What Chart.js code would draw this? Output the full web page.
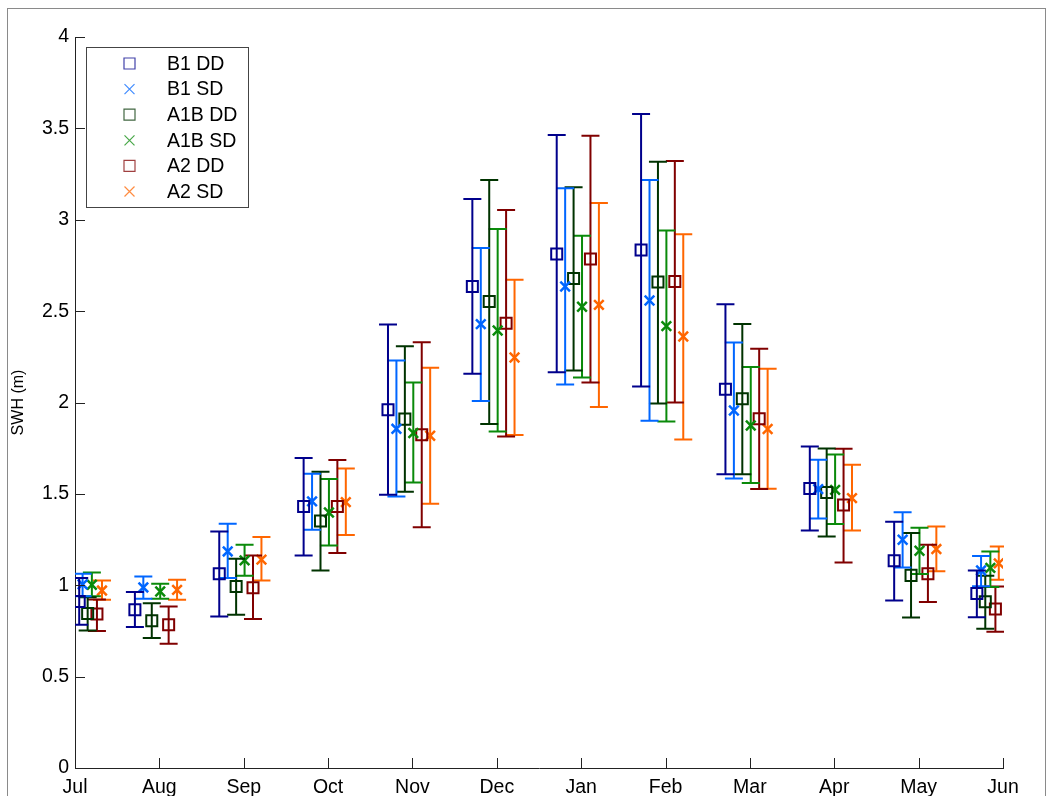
<!DOCTYPE html>
<html><head><meta charset="utf-8">
<script src="https://cdn.jsdelivr.net/npm/chart.js@4/dist/chart.umd.min.js"></script>
<style>html,body{margin:0;padding:0;background:#fff;overflow:hidden}canvas{display:block}</style>
</head><body>
<canvas id="c" width="1048" height="796"></canvas>
<script>
// ---- data ----
const months = ['Jul','Aug','Sep','Oct','Nov','Dec','Jan','Feb','Mar','Apr','May','Jun'];
const seriesNames = ['B1 DD','B1 SD','A1B DD','A1B SD','A2 DD','A2 SD'];
// x offsets (in month units) of each series around its month
const slotOffset = [-0.29,-0.19,-0.09,0.01,0.11,0.21];
const julOffset  = [0.05,0.09,0.15,0.20,0.26,0.32];
const junOffset  = [-0.31,-0.26,-0.21,-0.15,-0.09,-0.05];

const b1ddMean = [0.911,0.866,1.063,1.431,1.960,2.635,2.813,2.835,2.073,1.530,1.134,0.955];
const b1ddHigh = [1.040,0.963,1.294,1.696,2.427,3.113,3.464,3.579,2.538,1.759,1.347,1.081];
const b1ddLow  = [0.784,0.771,0.829,1.163,1.495,2.157,2.166,2.088,1.608,1.300,0.917,0.825];

const b1sdMean = [1.005,0.988,1.185,1.459,1.856,2.429,2.635,2.558,1.956,1.526,1.249,1.081];
const b1sdHigh = [1.063,1.048,1.336,1.610,2.230,2.846,3.173,3.218,2.328,1.687,1.400,1.160];
const b1sdLow  = [0.940,0.926,1.039,1.304,1.486,2.008,2.099,1.900,1.584,1.365,1.097,0.995];

const a1bddMean = [0.846,0.806,0.993,1.351,1.909,2.553,2.678,2.659,2.020,1.508,1.054,0.910];
const a1bddHigh = [0.935,0.902,1.145,1.621,2.308,3.218,3.178,3.318,2.430,1.748,1.286,1.052];
const a1bddLow  = [0.752,0.711,0.839,1.081,1.512,1.882,2.175,1.995,1.608,1.267,0.824,0.762];

const a1bsdMean = [1.003,0.966,1.136,1.398,1.833,2.394,2.524,2.418,1.874,1.522,1.189,1.095];
const a1bsdHigh = [1.070,1.008,1.222,1.581,2.109,2.950,2.912,2.941,2.194,1.716,1.315,1.185];
const a1bsdLow  = [0.940,0.926,1.052,1.218,1.562,1.841,2.137,1.896,1.559,1.335,1.061,0.990];

const a2ddMean = [0.843,0.784,0.986,1.431,1.823,2.434,2.785,2.662,1.911,1.439,1.063,0.870];
const a2ddHigh = [0.922,0.884,1.163,1.685,2.330,3.054,3.459,3.322,2.294,1.747,1.222,0.993];
const a2ddLow  = [0.749,0.680,0.815,1.176,1.318,1.814,2.109,2.000,1.526,1.125,0.908,0.745];

const a2sdMean = [0.971,0.975,1.140,1.455,1.818,2.246,2.534,2.361,1.855,1.477,1.198,1.120];
const a2sdHigh = [1.026,1.030,1.264,1.639,2.190,2.671,3.091,2.921,2.184,1.659,1.322,1.212];
const a2sdLow  = [0.920,0.920,1.026,1.275,1.446,1.822,1.976,1.798,1.528,1.300,1.076,1.030];

const yTicks = [0,0.5,1,1.5,2,2.5,3,3.5,4];
const yTickLabels = ['0','0.5','1','1.5','2','2.5','3','3.5','4'];

// ---- styles ----
const seriesColors = ['#00008c','#0066ff','#003300','#0a8a0a','#800000','#ff6600'];
const seriesStyle  = ['rect','crossRot','rect','crossRot','rect','crossRot'];
const allMean = [b1ddMean,b1sdMean,a1bddMean,a1bsdMean,a2ddMean,a2sdMean];
const allHigh = [b1ddHigh,b1sdHigh,a1bddHigh,a1bsdHigh,a2ddHigh,a2sdHigh];
const allLow  = [b1ddLow,b1sdLow,a1bddLow,a1bsdLow,a2ddLow,a2sdLow];

function offsetFor(m, s){
  if (m === 0) return julOffset[s];
  if (m === months.length-1) return junOffset[s];
  return slotOffset[s];
}

const datasets = seriesNames.map((name, s) => ({
  label: name,
  data: months.map((mo, m) => ({ x: m + offsetFor(m, s), y: allMean[s][m], yMin: allLow[s][m], yMax: allHigh[s][m] })),
  showLine: false,
  borderColor: seriesColors[s],
  backgroundColor: 'rgba(0,0,0,0)',
  pointStyle: seriesStyle[s],
  pointRadius: seriesStyle[s] === 'rect' ? 7.8 : 6.8,
  pointBorderWidth: seriesStyle[s] === 'rect' ? 2 : 2.5,
  pointHoverRadius: 0
}));

Chart.defaults.font.family = '"Liberation Sans", Arial, sans-serif';
Chart.defaults.color = '#000';

const framePlugin = {
  id: 'frame',
  beforeDraw(chart){
    const ctx = chart.ctx;
    ctx.save();
    ctx.fillStyle = '#fff';
    ctx.fillRect(0,0,chart.width,chart.height);
    ctx.strokeStyle = '#8a8a8a';
    ctx.lineWidth = 1;
    ctx.strokeRect(7.5, 8.5, 1038, 800);
    ctx.restore();
  }
};

const errorBarPlugin = {
  id: 'errbars',
  beforeDatasetDraw(chart, args){
    const ds = chart.data.datasets[args.index];
    const {ctx, chartArea: a, scales: {x, y}} = chart;
    ctx.save();
    ctx.beginPath();
    ctx.rect(a.left, a.top - 30, a.right - a.left + 1, a.bottom - a.top + 30);
    ctx.clip();
    ctx.strokeStyle = ds.borderColor;
    ctx.lineWidth = 2;
    ds.data.forEach(p => {
      const px = x.getPixelForValue(p.x);
      const yh = y.getPixelForValue(p.yMax);
      const yl = y.getPixelForValue(p.yMin);
      ctx.beginPath();
      ctx.moveTo(px, yh); ctx.lineTo(px, yl);
      ctx.moveTo(px - 9, yh); ctx.lineTo(px + 9, yh);
      ctx.moveTo(px - 9, yl); ctx.lineTo(px + 9, yl);
      ctx.stroke();
    });
    ctx.restore();
  }
};

const ticksPlugin = {
  id: 'inticks',
  afterDraw(chart){
    const {ctx, chartArea: a, scales: {x, y}} = chart;
    ctx.save();
    ctx.strokeStyle = '#222';
    ctx.lineWidth = 1;
    ctx.beginPath();
    y.ticks.forEach(t => {
      const py = Math.round(y.getPixelForValue(t.value)) + 0.5;
      ctx.moveTo(a.left, py); ctx.lineTo(a.left + 10, py);
    });
    x.ticks.forEach(t => {
      const px = Math.round(x.getPixelForValue(t.value)) + 0.5;
      ctx.moveTo(px, a.bottom); ctx.lineTo(px, a.bottom - 10);
    });
    ctx.stroke();
    ctx.restore();
  }
};

const legendPlugin = {
  id: 'legendbox',
  afterDraw(chart){
    const ctx = chart.ctx;
    ctx.save();
    ctx.fillStyle = '#fff';
    ctx.fillRect(86.5, 47.5, 162, 160);
    ctx.strokeStyle = '#444';
    ctx.lineWidth = 1;
    ctx.strokeRect(86.5, 47.5, 162, 160);
    ctx.font = '19.5px "Liberation Sans", Arial, sans-serif';
    ctx.textBaseline = 'middle';
    ctx.textAlign = 'left';
    chart.data.datasets.forEach((ds, i) => {
      const cy = 63.5 + 25.6 * i;
      const cx = 129.5;
      ctx.strokeStyle = ds.borderColor;
      ctx.globalAlpha = 0.75;
      ctx.lineWidth = 1.2;
      ctx.beginPath();
      if (ds.pointStyle === 'rect') {
        ctx.rect(cx - 5.5, cy - 5.5, 11, 11);
      } else {
        ctx.moveTo(cx - 5, cy - 5); ctx.lineTo(cx + 5, cy + 5);
        ctx.moveTo(cx - 5, cy + 5); ctx.lineTo(cx + 5, cy - 5);
      }
      ctx.stroke();
      ctx.globalAlpha = 1;
      ctx.fillStyle = '#000';
      ctx.fillText(ds.label, 167, cy + 1);
    });
    ctx.restore();
  }
};

new Chart(document.getElementById('c'), {
  type: 'scatter',
  data: { datasets },
  options: {
    responsive: false,
    devicePixelRatio: 1,
    animation: false,
    events: [],
    layout: { padding: { left: 0, right: 45, top: 37, bottom: 0 } },
    plugins: { legend: { display: false }, tooltip: { enabled: false } },
    scales: {
      x: {
        type: 'linear', min: 0, max: months.length - 1,
        grid: { display: false, drawTicks: false, tickLength: 0 },
        border: { display: true, color: '#222', width: 1 },
        ticks: {
          stepSize: 1, autoSkip: false, maxRotation: 0, padding: 8,
          font: { size: 19.5 }, color: '#000',
          callback: v => months[v]
        },
        afterFit: s => { s.height = 28; }
      },
      y: {
        min: 0, max: 4,
        grid: { display: false, drawTicks: false, tickLength: 0 },
        border: { display: true, color: '#222', width: 1 },
        afterBuildTicks: s => { s.ticks = yTicks.map(v => ({ value: v })); },
        ticks: {
          padding: 6, font: { size: 19.5 }, color: '#000',
          callback: v => yTickLabels[yTicks.indexOf(v)]
        },
        title: { display: true, text: 'SWH (m)', font: { size: 16 }, color: '#000', padding: { top: 9, bottom: 0 } },
        afterFit: s => { s.width = 75; }
      }
    }
  },
  plugins: [framePlugin, errorBarPlugin, ticksPlugin, legendPlugin]
});
</script>
</body></html>
